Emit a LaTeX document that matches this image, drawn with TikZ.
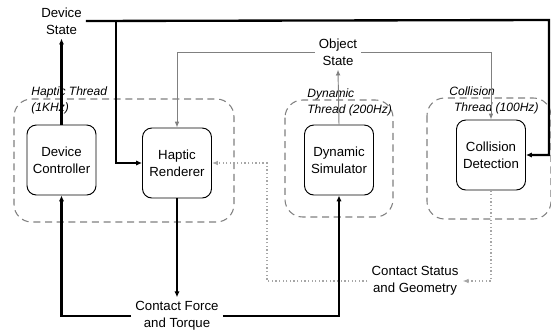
\documentclass[tikz,border=0pt]{standalone}
\usepackage{fontspec}
\setmainfont{Liberation Sans}
\usetikzlibrary{shapes, positioning, arrows.meta}

\begin{document}
\begin{tikzpicture}[x=0.03cm, y=-0.03cm, semithick]
\tikzstyle{block}=[draw, rectangle, rounded corners=8pt, align=center, line width=0.8pt, minimum width=2.07cm, minimum height=2.1cm, font=\fontsize{11.3}{14.5}\selectfont]
\tikzstyle{msg}=[draw=none, align=center, font=\fontsize{11.3}{14.5}\selectfont]
\tikzstyle{thread}=[draw=gray, dash pattern=on 6pt off 4pt, rounded corners=15pt, line width=0.9pt]
\tikzstyle{threadname}=[align=left, anchor=west, inner sep=0pt, font=\fontsize{10.3}{13.6}\selectfont\itshape]
\tikzstyle{bold}=[-{Latex[length=5pt,width=4.5pt]}, line width=2pt]
\tikzstyle{data}=[-{Latex[length=5pt,width=4pt]}, draw=gray, line width=0.8pt]
\tikzstyle{info}=[-{Latex[length=5pt,width=4pt]}, draw=gray!70, dotted, line width=1.1pt]
\useasboundingbox (0,0) rectangle (551,333);
% thread regions
\draw[thread] (14,99) rectangle (234,222);
\draw[thread] (285,100) rectangle (393,217);
\draw[thread] (427,98) rectangle (551,219);
\node[threadname] (hthread) at (31,100) {Haptic Thread\\(1KHz)};
\node[threadname] (dthread) at (307,102) {Dynamic\\Thread (200Hz)};
\node[threadname] (cthread) at (449,100) {Collision\\\hspace{4pt}Thread (100Hz)};
% blocks
\node[block] (controller) at (61.5,160) {Device\\Controller};
\node[block] (renderer)   at (177,163)  {Haptic\\Renderer};
\node[block] (simulator)  at (339,160)  {Dynamic\\Simulator};
\node[block] (collision)  at (491,155)  {Collision\\Detection};
% messages
\node[msg] (devstate) at (61.5,21)  {Device\\State};
\node[msg] (objstate) at (338,52)   {Object\\State};
\node[msg] (force)    at (177,316)  {Contact Force\\and Torque};
\node[msg] (status)   at (415,281)  {Contact Status\\and Geometry};
\coordinate (dscorner) at (549,20);
\coordinate (dsbranch) at (116,20);
\coordinate (dotcorner) at (267,281);
\path
(controller.north) edge[bold] (devstate.south)
(renderer.south)   edge[bold] (force.north)
(simulator.north)  edge[data] (objstate.south);
\draw[bold] (devstate.east) -- (dscorner) |- (collision.east);
\draw[bold] (dsbranch) |- (renderer.west);
\draw[bold] (force.west) -| (controller.south);
\draw[bold] (force.east) -| (simulator.south);
\draw[data] (objstate.west) -| (renderer.north);
\draw[data] (objstate.east) -| (collision.north);
\draw[info] (collision.south) |- (status.east);
\draw[info] (status.west) -- (dotcorner) |- (renderer.east);
\end{tikzpicture}
\end{document}
